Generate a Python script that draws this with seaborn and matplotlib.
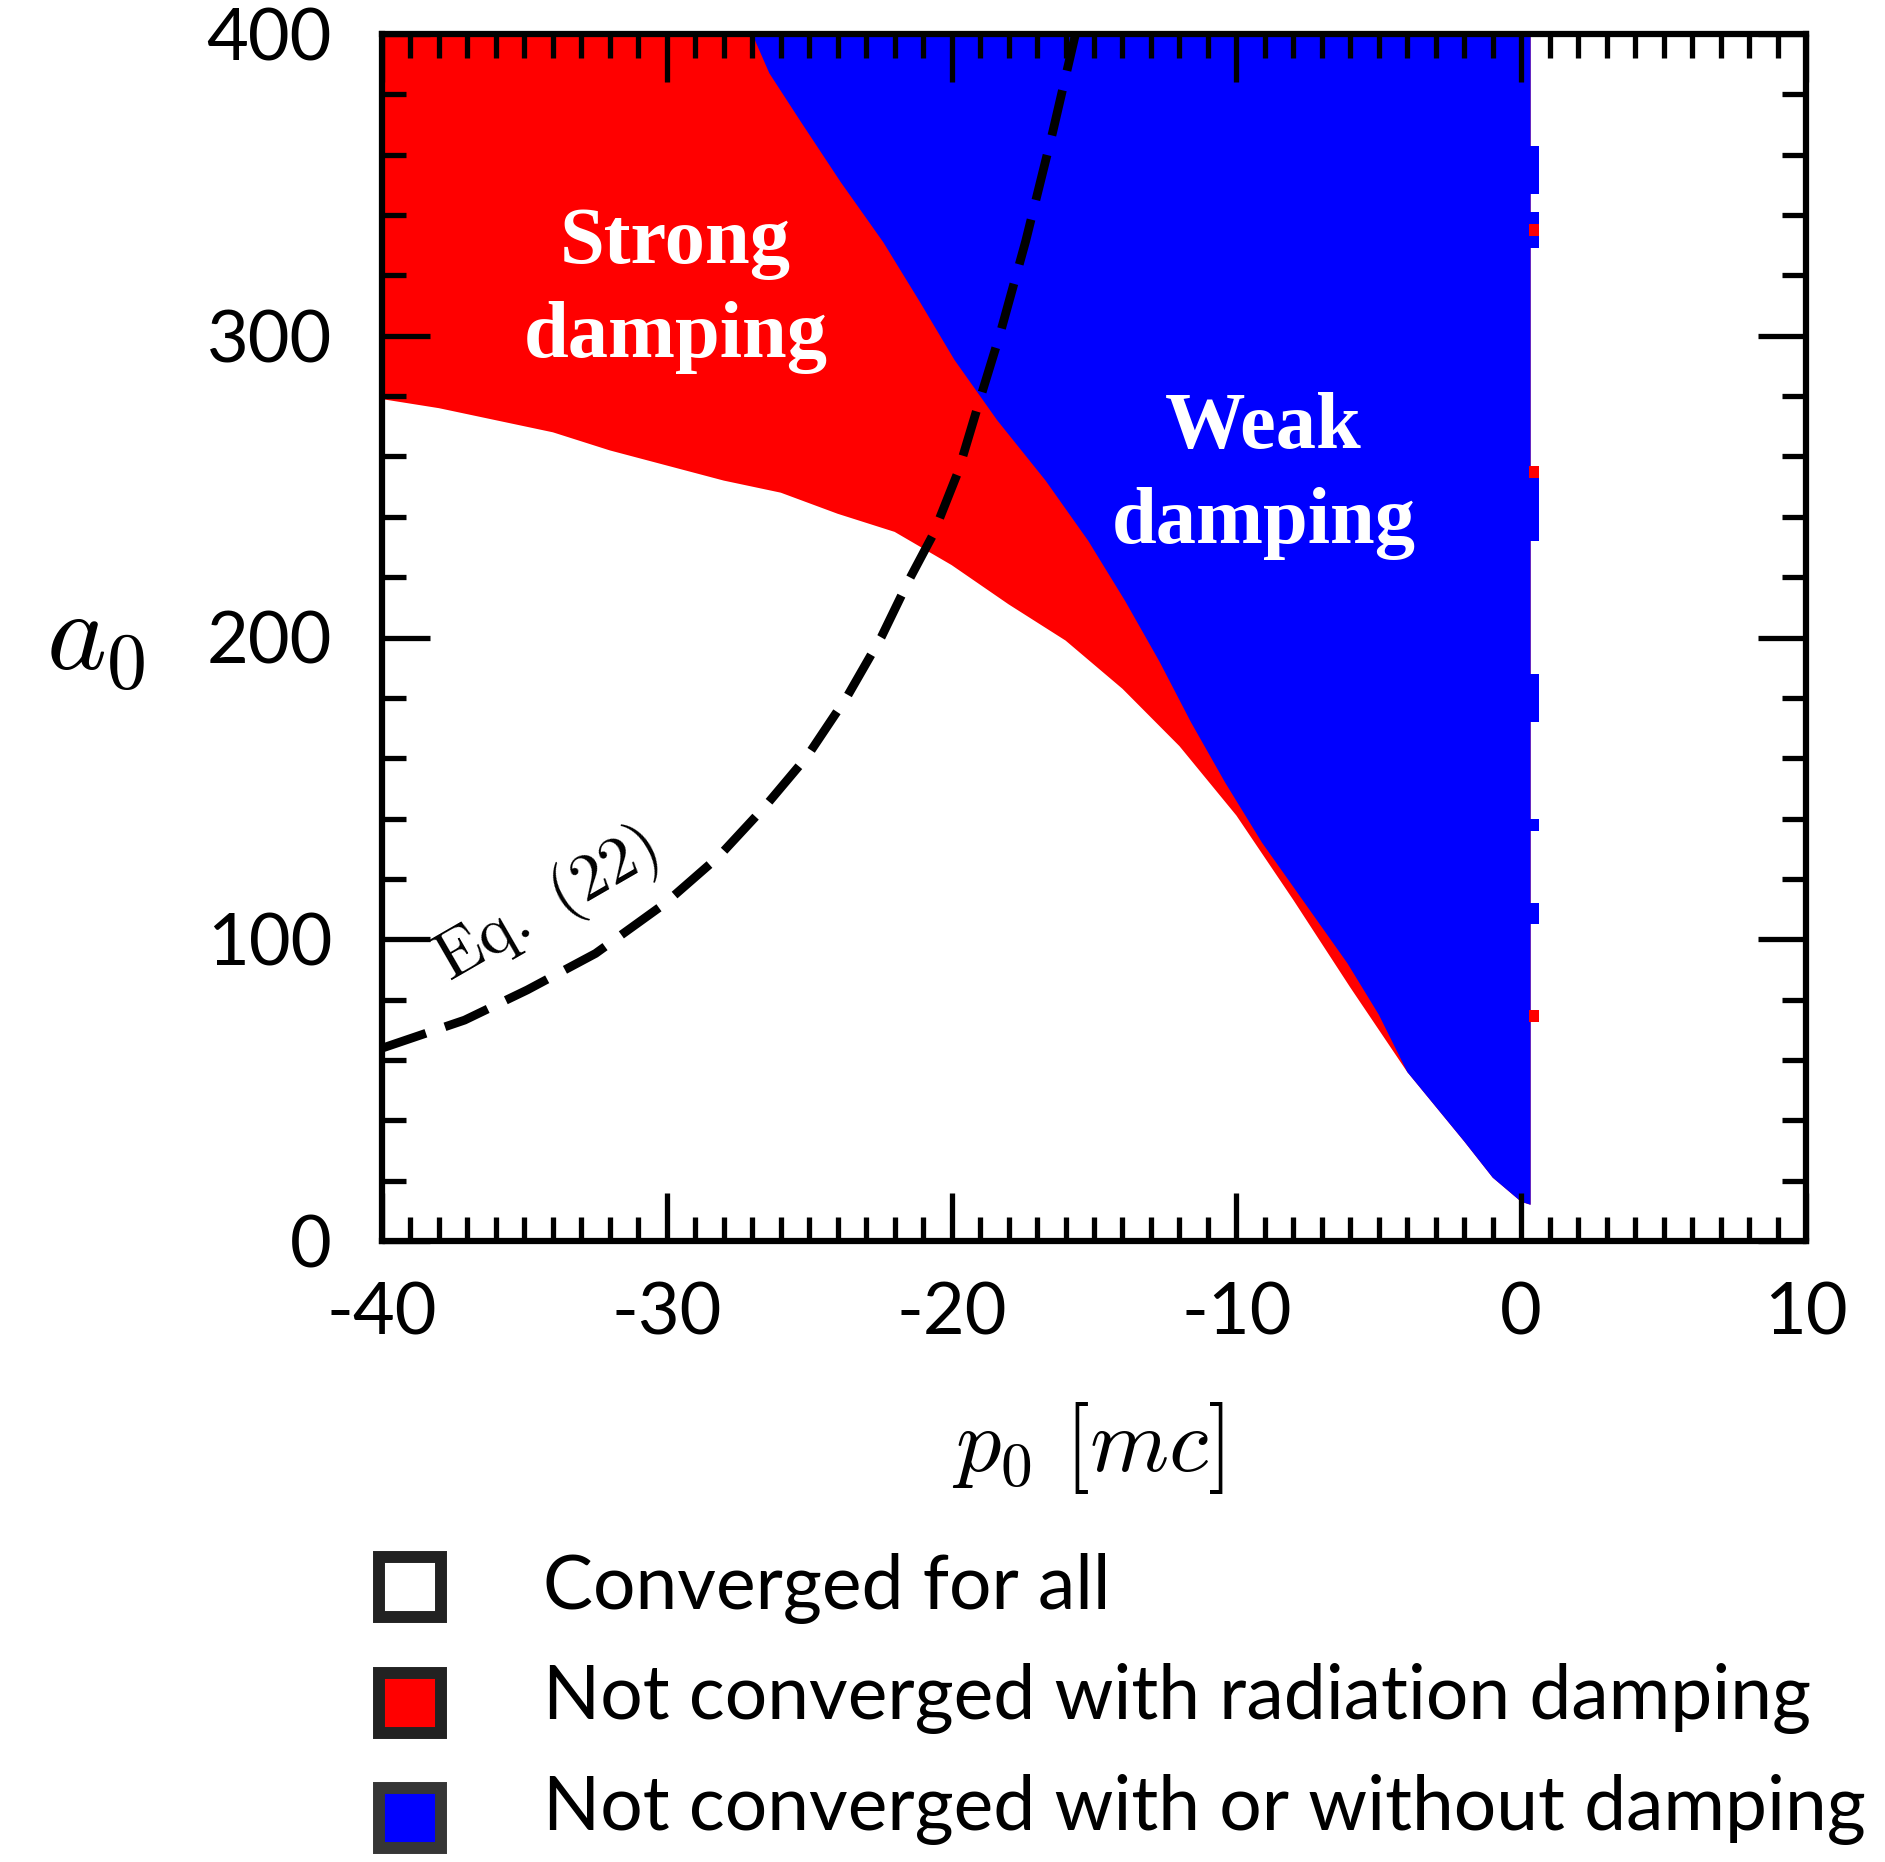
import numpy as np
import matplotlib
matplotlib.use("Agg")
import matplotlib.pyplot as plt
import seaborn as sns
from matplotlib.patches import Rectangle
from matplotlib.ticker import MultipleLocator

# ---------------- data ----------------
categories = ["Converged for all",
              "Not converged with radiation damping",
              "Not converged with or without damping"]
region_labels = ["Strong\ndamping", "Weak\ndamping"]
eq_label = r"$\mathrm{Eq.\ (22)}$"

# lower boundary of the non-converged region (white / coloured), a0 vs p0
lower_p = [-40, -38, -36, -34, -32, -30, -28, -26, -24, -22, -20, -18, -16,
           -14, -12, -10, -8, -6, -4, -2, -1, 0, 0.33]
lower_a = [279, 276, 272, 268, 262, 257, 252, 248, 241, 235, 224, 211, 199,
           183, 164, 141, 113, 84, 56, 33, 21, 13, 12]

# red / blue boundary, p0 at given a0
rb_a = [400, 387, 371, 351, 331, 311, 292, 272, 252, 232, 212, 192, 172,
        152, 132, 112, 92, 75]
rb_p = [-27.0, -26.4, -25.3, -23.9, -22.4, -21.1, -19.9, -18.4, -16.7, -15.2,
        -13.9, -12.7, -11.6, -10.4, -9.1, -7.6, -6.1, -5.0]

# right edge of the blue region and its small protrusions
edge_p = 0.33
bump_p = 0.64
blue_bump_lo = [347, 329, 232, 172, 136, 105]
blue_bump_hi = [363, 341, 256, 188, 140, 112]
red_speck_a = [335, 255, 74.5]

# Eq. (22) curve
eq_p = [-40, -37.1, -34.9, -32.5, -30.06, -28.18, -26.56, -25.08, -23.67,
        -22.46, -21.5, -20.64, -19.76, -19.0, -18.3, -17.4, -16.45, -15.65]
eq_a = [63.9, 73.2, 83.2, 95.3, 111.9, 127.4, 143.9, 160.5, 180.4,
        200.3, 219, 234.3, 255.2, 279.1, 300.6, 331.3, 367.5, 400]

# ---------------- style ----------------
palette = ["#ffffff", "#ff0000", "#0000ff"]
box_edges = ["#222222", "#222222", "#363636"]

sns.set_style("ticks")
plt.rcParams["font.family"] = ["Lato", "DejaVu Sans"]
plt.rcParams["mathtext.fontset"] = "cm"
plt.rcParams["axes.unicode_minus"] = False
for k in ["text.color", "axes.labelcolor", "xtick.color", "ytick.color",
          "axes.edgecolor"]:
    plt.rcParams[k] = "black"

W, H = 1885, 1862
fig = plt.figure(figsize=(W / 100, H / 100), dpi=100)
ax = fig.add_axes([382 / W, 1 - 1241 / H, (1806 - 382) / W, (1241 - 34) / H])

# red: everything above the lower boundary
red_x = [-40] + lower_p + [edge_p, -40]
red_y = [400] + lower_a + [400, 400]
ax.fill(red_x, red_y, color=palette[1], lw=0, zorder=0.5)

# blue: above red/blue boundary, then along lower boundary
tail = [(p, a) for p, a in zip(lower_p, lower_a) if p > rb_p[-1]]
blue_x = rb_p + [t[0] for t in tail] + [edge_p]
blue_y = rb_a + [t[1] for t in tail] + [400]
ax.fill(blue_x, blue_y, color=palette[2], lw=0, zorder=0.6)
for lo, hi in zip(blue_bump_lo, blue_bump_hi):
    ax.fill_between([edge_p - 0.05, bump_p], lo, hi, color=palette[2], lw=0, zorder=0.6)
for a in red_speck_a:
    ax.fill_between([edge_p - 0.05, bump_p], a - 2, a + 2, color=palette[1], lw=0, zorder=0.7)

# dashed Eq. (22) curve
sns.lineplot(x=eq_p, y=eq_a, ax=ax, color="black", lw=6.3, sort=False,
             estimator=None, linestyle=(0, (5.3, 2.3)), zorder=3)

# region labels
for (px, ay), lab in zip([(-29.7, 315), (-9.05, 253.5)], region_labels):
    ax.text(px, ay, lab, color="white", fontsize=58, fontweight="bold",
            family="Liberation Serif", ha="center", va="center",
            linespacing=1.38, zorder=4)
ax.text(-34.2, 111, eq_label, fontsize=48, rotation=30, ha="center",
        va="center", rotation_mode="anchor", zorder=4)

# axes
ax.set_xlim(-40, 10)
ax.set_ylim(0, 400)
ax.xaxis.set_major_locator(MultipleLocator(10))
ax.xaxis.set_minor_locator(MultipleLocator(1))
ax.yaxis.set_major_locator(MultipleLocator(100))
ax.yaxis.set_minor_locator(MultipleLocator(20))
ax.tick_params(which="both", direction="in", top=True, right=True,
               width=3.8, color="black", labelsize=52, labelcolor="black")
ax.tick_params(which="major", length=34.5)
ax.tick_params(which="minor", length=17)
ax.tick_params(axis="x", pad=29)
ax.tick_params(axis="y", pad=36)
for s in ax.spines.values():
    s.set_linewidth(4.5)
    s.set_color("black")
    s.set_zorder(5)
ax.set_axisbelow(False)

ax.set_xlabel(r"$p_0\ [mc]$", fontsize=65)
ax.xaxis.set_label_coords(0.4958, -0.1715)
ax.xaxis.label.set_va("center")
ax.set_ylabel(r"$a_0$", fontsize=82, rotation=0)
ax.yaxis.set_label_coords(-0.2015, 0.497)
ax.yaxis.label.set_va("center")
ax.yaxis.label.set_ha("center")

# legend (manual)
for i, cat in enumerate(categories):
    cy = 1587 + i * 115.5
    fig.add_artist(Rectangle(((410 - 31) / W, 1 - (cy + 30) / H), 62 / W, 60 / H,
                             transform=fig.transFigure, facecolor=palette[i],
                             edgecolor=box_edges[i], lw=8.6))
    fig.text(543 / W, 1 - (1609 + i * 110.5) / H, cat, fontsize=54,
             va="baseline", ha="left", color="black")

fig.savefig("out.png", dpi=100)
